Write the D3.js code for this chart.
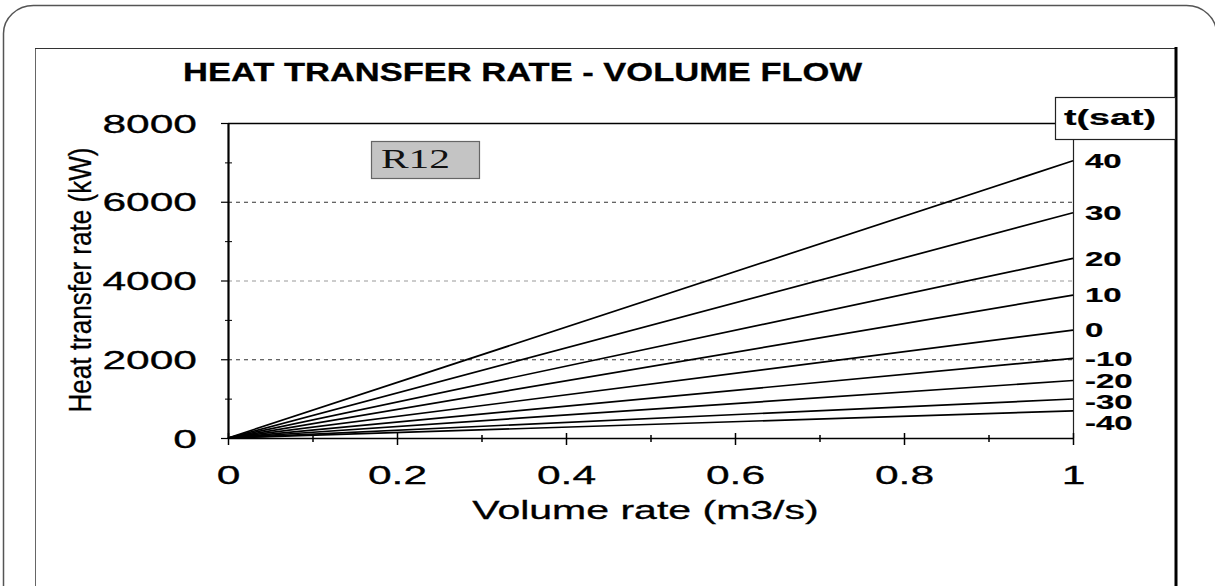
<!DOCTYPE html>
<html>
<head>
<meta charset="utf-8">
<script src="https://cdn.jsdelivr.net/npm/d3@7"></script>
<style>
    html, body { margin: 0; padding: 0; background: #fff; }
    svg { display: block; }
</style>
</head>
<body>
<svg id="chart" width="1215" height="586"></svg>
<script>
// chart values
var satTemps = [40, 30, 20, 10, 0, -10, -20, -30, -40];
var volumeRate = [0, 1];
var heatRate = [           // kW, one row per t(sat)
    [0, 7040],
    [0, 5720],
    [0, 4560],
    [0, 3630],
    [0, 2740],
    [0, 2020],
    [0, 1460],
    [0, 990],
    [0, 690]
];
var xTicks = [0, 0.2, 0.4, 0.6, 0.8, 1];
var xMinorTicks = [0.1, 0.3, 0.5, 0.7, 0.9];
var yTicks = [0, 2000, 4000, 6000, 8000];
var yMinorTicks = [1000, 3000, 5000, 7000];
var yGrid = [2000, 4000, 6000];

var SANS = "'Liberation Sans', Arial, sans-serif";
var SERIF = "'Liberation Serif', 'Times New Roman', serif";

var svg = d3.select("#chart");

// the picture is stretched sideways, so text gets stretched too
function stretch(sel, sx) {
    sel.each(function () {
        var w = this.getComputedTextLength();
        d3.select(this).attr("textLength", w * sx).attr("lengthAdjust", "spacingAndGlyphs");
    });
}
// scanned look: glyphs a bit heavier than the plain font
function ink(sel, w) {
    sel.style("font-family", SANS).attr("fill", "#000")
        .attr("stroke", "#000").attr("stroke-width", w);
}

// outer rounded frame + inner picture frame
svg.append("rect")
    .attr("x", 3.5).attr("y", 5.5)
    .attr("width", 1213).attr("height", 700)
    .attr("rx", 30).attr("ry", 28)
    .attr("fill", "none").attr("stroke", "#555").attr("stroke-width", 1.5);

svg.append("rect")
    .attr("x", 35.5).attr("y", 48.5)
    .attr("width", 1140).attr("height", 600)
    .attr("fill", "none").attr("stroke", "#666").attr("stroke-width", 1);
svg.append("line")
    .attr("x1", 35).attr("x2", 1176).attr("y1", 48.5).attr("y2", 48.5)
    .attr("stroke", "#333").attr("stroke-width", 1.2);
svg.append("line")
    .attr("x1", 1176).attr("x2", 1176).attr("y1", 47).attr("y2", 600)
    .attr("stroke", "#000").attr("stroke-width", 3);

var x = d3.scaleLinear().domain([0, 1]).range([228, 1073]);
var y = d3.scaleLinear().domain([0, 8000]).range([438, 123]);

// title
svg.append("text")
    .attr("x", 183).attr("y", 81)
    .attr("font-size", 25).attr("font-weight", "bold")
    .attr("textLength", 679).attr("lengthAdjust", "spacingAndGlyphs")
    .text("HEAT TRANSFER RATE - VOLUME FLOW")
    .call(ink, 0.3);

// dashed grid
svg.append("g").selectAll("line").data(yGrid).enter().append("line")
    .attr("x1", x(0)).attr("x2", x(1))
    .attr("y1", function (d) { return y(d) + 0.5; })
    .attr("y2", function (d) { return y(d) + 0.5; })
    .attr("stroke", function (d) { return d === 4000 ? "#999" : "#333"; })
    .attr("stroke-width", 1)
    .attr("stroke-dasharray", "4,4");

// plot border: top and right side
svg.append("line")
    .attr("x1", x(0)).attr("x2", 1055).attr("y1", y(8000) + 0.5).attr("y2", y(8000) + 0.5)
    .attr("stroke", "#000").attr("stroke-width", 1.5);
svg.append("line")
    .attr("x1", x(1) + 0.5).attr("x2", x(1) + 0.5).attr("y1", 140).attr("y2", y(0))
    .attr("stroke", "#222").attr("stroke-width", 1.2);

// y axis
var yAxis = svg.append("g")
    .attr("transform", "translate(" + x(0) + ",0)")
    .call(d3.axisLeft(y).tickValues(yTicks).tickSizeInner(7).tickSizeOuter(0).tickPadding(24)
        .tickFormat(d3.format("d")));
yAxis.select(".domain").attr("stroke", "#000").attr("stroke-width", 2.2);
yAxis.selectAll(".tick line").attr("stroke", "#000").attr("stroke-width", 1.2);
yAxis.selectAll("text")
    .attr("font-size", 25).attr("dy", "0.36em")
    .call(ink, 0.3)
    .call(stretch, 1.7);

var yMinor = svg.append("g")
    .attr("transform", "translate(" + x(0) + ",0)")
    .call(d3.axisLeft(y).tickValues(yMinorTicks).tickSizeInner(3).tickSizeOuter(0).tickFormat(""));
yMinor.select(".domain").remove();
yMinor.selectAll(".tick line").attr("x1", 4).attr("stroke", "#000");

// x axis
var xAxis = svg.append("g")
    .attr("transform", "translate(0," + y(0) + ")")
    .call(d3.axisBottom(x).tickValues(xTicks).tickSizeInner(7).tickSizeOuter(0).tickPadding(21)
        .tickFormat(d3.format("~g")));
xAxis.select(".domain").attr("stroke", "#000").attr("stroke-width", 1.5);
xAxis.selectAll(".tick line").attr("y1", -5).attr("stroke", "#000").attr("stroke-width", 1.5);
xAxis.selectAll("text")
    .attr("font-size", 25)
    .call(ink, 0.3)
    .call(stretch, 1.7);

var xMinor = svg.append("g")
    .attr("transform", "translate(0," + y(0) + ")")
    .call(d3.axisBottom(x).tickValues(xMinorTicks).tickSizeInner(4).tickSizeOuter(0).tickFormat(""));
xMinor.select(".domain").remove();
xMinor.selectAll(".tick line").attr("y1", -3).attr("stroke", "#000").attr("stroke-width", 1.5);

// axis titles
svg.append("text")
    .attr("x", (x(0) + x(1)) / 2 - 5).attr("y", 519)
    .attr("text-anchor", "middle").attr("font-size", 25)
    .text("Volume rate (m3/s)")
    .call(ink, 0.3)
    .call(stretch, 1.64);

svg.append("text")
    .attr("transform", "translate(91,280) rotate(-90)")
    .attr("text-anchor", "middle").attr("font-size", 32)
    .attr("textLength", 265).attr("lengthAdjust", "spacingAndGlyphs")
    .text("Heat transfer rate (kW)")
    .call(ink, 0.3);

// series lines
var line = d3.line()
    .x(function (d, i) { return x(volumeRate[i]); })
    .y(function (d) { return y(d); });

svg.append("g").selectAll("path").data(heatRate).enter().append("path")
    .attr("d", line)
    .attr("fill", "none")
    .attr("stroke", "#000")
    .attr("stroke-width", 1.7);

// t(sat) labels on the right, pushed apart where they would collide
var labelY = [];
heatRate.forEach(function (row, i) {
    var yy = y(row[row.length - 1]);
    if (i > 0 && yy < labelY[i - 1] + 21) yy = labelY[i - 1] + 21;
    labelY.push(yy);
});
svg.append("g").selectAll("text").data(satTemps).enter().append("text")
    .attr("x", 1085)
    .attr("y", function (d, i) { return labelY[i]; })
    .attr("dy", "0.36em")
    .attr("font-size", 20).attr("font-weight", "bold")
    .text(function (d) { return d; })
    .call(ink, 0.2)
    .call(stretch, 1.65);

// t(sat) header box
svg.append("rect")
    .attr("x", 1055.5).attr("y", 97.5).attr("width", 120).attr("height", 42)
    .attr("fill", "#fff").attr("stroke", "#222").attr("stroke-width", 1.2);
svg.append("text")
    .attr("x", 1064).attr("y", 125)
    .attr("font-size", 22).attr("font-weight", "bold")
    .attr("textLength", 92).attr("lengthAdjust", "spacingAndGlyphs")
    .text("t(sat)")
    .call(ink, 0.2);

// refrigerant tag
svg.append("rect")
    .attr("x", 371.5).attr("y", 141.5).attr("width", 108).attr("height", 37)
    .attr("fill", "#c4c4c4").attr("stroke", "#666").attr("stroke-width", 1.2);
svg.append("text")
    .attr("x", 381).attr("y", 168)
    .style("font-family", SERIF)
    .attr("font-size", 27)
    .attr("textLength", 69).attr("lengthAdjust", "spacingAndGlyphs")
    .attr("fill", "#111")
    .text("R12");
</script>
</body>
</html>
